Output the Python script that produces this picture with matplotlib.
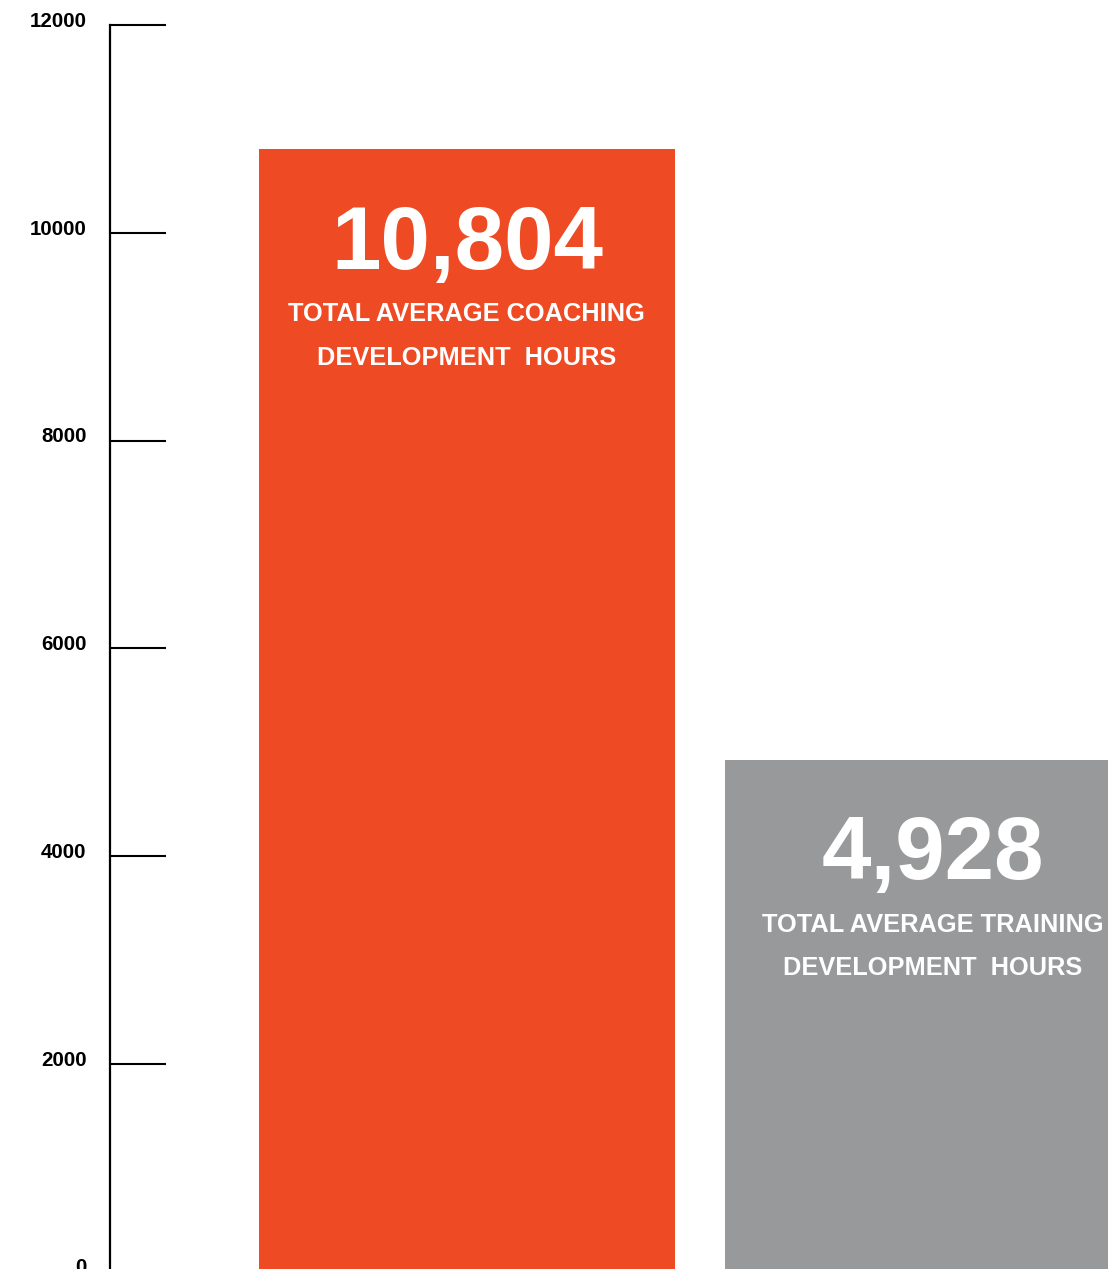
import matplotlib
matplotlib.use("Agg")
import matplotlib.pyplot as plt
import matplotlib.transforms as mtransforms

# Data
categories = ["Coaching", "Training"]
hours = [10804, 4928]
value_labels = ["10,804", "4,928"]
caption_lines = [
    ["TOTAL AVERAGE COACHING", "DEVELOPMENT  HOURS"],
    ["TOTAL AVERAGE TRAINING", "DEVELOPMENT  HOURS"],
]
bar_colors = ["#EE4A23", "#98999B"]
y_ticks = [0, 2000, 4000, 6000, 8000, 10000, 12000]

plt.rcParams["font.family"] = ["Liberation Sans", "DejaVu Sans"]

W, H = 1108, 1269
fig = plt.figure(figsize=(W / 100, H / 100), dpi=100)

# Axes spans from the spine to the right edge; zero sits just below the canvas
left_px, right_px = 110, 1108
top_px, zero_px = 25, 1271.5
ax = fig.add_axes([left_px / W, (H - zero_px) / H,
                   (right_px - left_px) / W, (zero_px - top_px) / H])

positions = list(range(len(categories)))
ax.bar(positions, hours, width=0.893, color=bar_colors, linewidth=0)
ax.set_xlim(-0.766, 1.376)
ax.set_ylim(0, 12000)

# Text inside each bar
for x, v, num, lines in zip(positions, hours, value_labels, caption_lines):
    ax.annotate(num, xy=(x, v), xytext=(0, -86), textcoords="offset points",
                ha="center", va="baseline", color="white",
                fontsize=64, fontweight="bold", annotation_clip=False)
    for k, line in enumerate(lines):
        ax.annotate(line, xy=(x, v), xytext=(0, -124 - 31 * k),
                    textcoords="offset points", ha="center", va="baseline",
                    color="white", fontsize=18.3, fontweight="bold",
                    annotation_clip=False)

# Axis styling
for side in ["top", "right", "bottom"]:
    ax.spines[side].set_visible(False)
ax.spines["left"].set_linewidth(1.6)
ax.spines["left"].set_color("black")
ax.set_xticks([])
ax.set_yticks(y_ticks)
ax.set_yticklabels([str(t) for t in y_ticks])
ax.tick_params(axis="y", direction="in", length=40, width=1.5,
               pad=17, labelsize=14.8, colors="black")
for lab in ax.get_yticklabels():
    lab.set_fontweight("bold")
    lab.set_transform(lab.get_transform() +
                      mtransforms.ScaledTranslation(0, 4 / 72, fig.dpi_scale_trans))

fig.savefig("out.png", dpi=100)
